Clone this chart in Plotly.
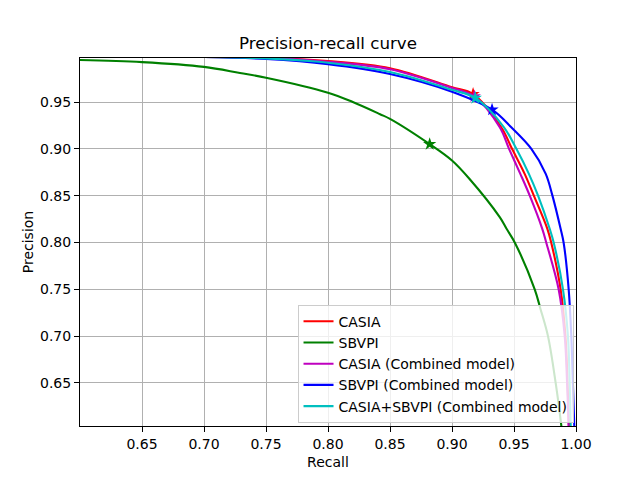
import plotly.graph_objects as go

# ---------------- data ----------------
casia_recall = [0.70, 0.75, 0.80, 0.85, 0.90, 0.917, 0.9397, 0.9484, 0.9586, 0.966, 0.9769, 0.980, 0.9876, 0.9915, 0.9932, 0.9943, 0.9945]
casia_prec   = [0.998, 0.9972, 0.9937, 0.986, 0.9657, 0.9585, 0.923, 0.90, 0.8733, 0.85, 0.8146, 0.80, 0.75, 0.70, 0.65, 0.605, 0.600]

sbvpi_recall = [0.60, 0.65, 0.70, 0.729, 0.75, 0.80, 0.82, 0.842, 0.85, 0.882, 0.90, 0.914, 0.9385, 0.944, 0.9506, 0.9667, 0.9713, 0.9774, 0.9836, 0.9881, 0.9885]
sbvpi_prec   = [0.9948, 0.9926, 0.9875, 0.981, 0.976, 0.960, 0.95, 0.937, 0.932, 0.905, 0.8875, 0.868, 0.827, 0.8146, 0.80, 0.75, 0.7293, 0.70, 0.65, 0.605, 0.600]

casia_comb_recall = [0.70, 0.75, 0.80, 0.85, 0.90, 0.918, 0.9385, 0.946, 0.9551, 0.9627, 0.9728, 0.976, 0.986, 0.9909, 0.9928, 0.994, 0.9942]
casia_comb_prec   = [0.998, 0.997, 0.993, 0.985, 0.965, 0.956, 0.923, 0.90, 0.8733, 0.85, 0.8146, 0.80, 0.75, 0.70, 0.65, 0.605, 0.600]

sbvpi_comb_recall = [0.70, 0.75, 0.80, 0.85, 0.90, 0.9323, 0.9478, 0.964, 0.9756, 0.981, 0.9876, 0.990, 0.9941, 0.9962, 0.9975, 0.9986, 0.9988]
sbvpi_comb_prec   = [0.998, 0.996, 0.9905, 0.980, 0.961, 0.9418, 0.923, 0.90, 0.8733, 0.85, 0.8146, 0.80, 0.75, 0.70, 0.65, 0.605, 0.600]

both_comb_recall = [0.70, 0.75, 0.80, 0.85, 0.90, 0.9188, 0.9419, 0.9519, 0.962, 0.9694, 0.9788, 0.982, 0.9895, 0.9935, 0.9949, 0.9957, 0.996]
both_comb_prec   = [0.998, 0.9965, 0.992, 0.982, 0.963, 0.9543, 0.923, 0.90, 0.8733, 0.85, 0.8146, 0.80, 0.75, 0.70, 0.65, 0.605, 0.600]

# operating points (stars)
star_recall = [0.917, 0.882, 0.918, 0.9323, 0.9188]
star_prec   = [0.9585, 0.905, 0.956, 0.9418, 0.9543]

names  = ["CASIA", "SBVPI", "CASIA (Combined model)", "SBVPI (Combined model)", "CASIA+SBVPI (Combined model)"]
colors = ["#ff0000", "#008000", "#bf00bf", "#0000ff", "#00bfbf"]

xticks = [0.65, 0.70, 0.75, 0.80, 0.85, 0.90, 0.95, 1.00]
yticks = [0.65, 0.70, 0.75, 0.80, 0.85, 0.90, 0.95]

curves = [
    (casia_recall, casia_prec),
    (sbvpi_recall, sbvpi_prec),
    (casia_comb_recall, casia_comb_prec),
    (sbvpi_comb_recall, sbvpi_comb_prec),
    (both_comb_recall, both_comb_prec),
]

FONT = "DejaVu Sans"
fig = go.Figure()
for i, (rx, py) in enumerate(curves):
    fig.add_trace(go.Scatter(
        x=rx, y=py, mode="lines", name=names[i],
        line=dict(color=colors[i], width=2.1, shape="spline", smoothing=1.0),
    ))
    fig.add_trace(go.Scatter(
        x=[star_recall[i]], y=[star_prec[i]], mode="markers", showlegend=False,
        marker=dict(symbol="star", size=10, color=colors[i], line=dict(width=0)),
    ))

axis_common = dict(
    showline=True, linecolor="black", linewidth=1.1, mirror=True,
    ticks="outside", ticklen=5, tickwidth=1.1, tickcolor="black",
    showgrid=True, gridcolor="#b0b0b0", gridwidth=1.1,
    zeroline=False, tickfont=dict(family=FONT, size=14, color="black"),
    tickformat=".2f",
)

fig.update_layout(
    width=640, height=480,
    margin=dict(l=80, r=64, t=58, b=52),
    paper_bgcolor="white", plot_bgcolor="white",
    font=dict(family=FONT, size=14, color="black"),
    title=dict(text="Precision-recall curve", x=0.5, xref="paper", xanchor="center",
               y=1 - 43 / 480, yref="container", yanchor="middle",
               font=dict(family=FONT, size=16.7, color="black")),
    xaxis=dict(range=[0.6, 1.0], tickvals=xticks,
               title=dict(text="Recall", standoff=6, font=dict(family=FONT, size=14)),
               **axis_common),
    yaxis=dict(range=[0.604, 0.997], tickvals=yticks,
               title=dict(text="Precision", standoff=3, font=dict(family=FONT, size=14)),
               **axis_common),
    legend=dict(x=0.995, y=0.009, xanchor="right", yanchor="bottom",
                bgcolor="rgba(255,255,255,0.8)", bordercolor="#cccccc", borderwidth=1,
                font=dict(family=FONT, size=14, color="black"),
                tracegroupgap=0, itemwidth=30),
    showlegend=True,
)

fig.write_html("out.html")
